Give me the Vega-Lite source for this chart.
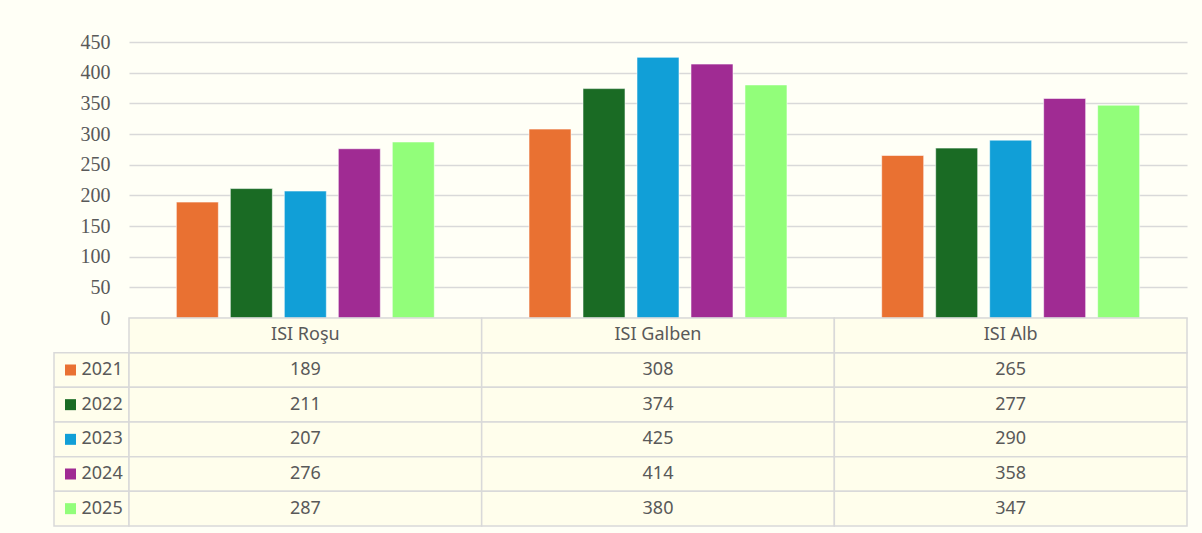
{
  "$schema": "https://vega.github.io/schema/vega-lite/v6.json",
  "background": "#fffff6",
  "padding": {"left": 53, "top": 32, "right": 15, "bottom": 6},
  "spacing": 0,
  "bounds": "flush",
  "columns": 2,
  "datasets": {
    "vals": [
      {"cat": "ISI Roşu", "year": "2021", "value": 189},
      {"cat": "ISI Roşu", "year": "2022", "value": 211},
      {"cat": "ISI Roşu", "year": "2023", "value": 207},
      {"cat": "ISI Roşu", "year": "2024", "value": 276},
      {"cat": "ISI Roşu", "year": "2025", "value": 287},
      {"cat": "ISI Galben", "year": "2021", "value": 308},
      {"cat": "ISI Galben", "year": "2022", "value": 374},
      {"cat": "ISI Galben", "year": "2023", "value": 425},
      {"cat": "ISI Galben", "year": "2024", "value": 414},
      {"cat": "ISI Galben", "year": "2025", "value": 380},
      {"cat": "ISI Alb", "year": "2021", "value": 265},
      {"cat": "ISI Alb", "year": "2022", "value": 277},
      {"cat": "ISI Alb", "year": "2023", "value": 290},
      {"cat": "ISI Alb", "year": "2024", "value": 358},
      {"cat": "ISI Alb", "year": "2025", "value": 347}
    ]
  },
  "config": {
    "view": {"stroke": null},
    "text": {"font": "Noto Sans", "fontSize": 18, "fill": "#595959"}
  },
  "concat": [
    {
      "width": 75,
      "height": 276,
      "data": {"values": [{}]},
      "mark": {"type": "text"},
      "encoding": {"text": {"value": ""}}
    },
    {
      "width": 1058,
      "height": 276,
      "data": {"name": "vals"},
      "mark": {"type": "bar", "stroke": "#ffffff", "strokeOpacity": 0.55, "strokeWidth": 1},
      "encoding": {
        "x": {
          "field": "cat", "type": "nominal", "sort": null,
          "scale": {"domain": ["ISI Roşu", "ISI Galben", "ISI Alb"], "paddingInner": 0, "paddingOuter": 0},
          "axis": null
        },
        "xOffset": {
          "field": "year", "type": "nominal",
          "scale": {"paddingInner": 0.222, "paddingOuter": 0.877}
        },
        "y": {
          "field": "value", "type": "quantitative",
          "scale": {"domain": [0, 450], "nice": false},
          "axis": {
            "title": null,
            "values": [0, 50, 100, 150, 200, 250, 300, 350, 400, 450],
            "domain": false,
            "ticks": false,
            "labelPadding": 19,
            "labelFont": "Liberation Serif",
            "labelFontSize": 20,
            "labelColor": "#595959",
            "gridColor": "#d9d9d9",
            "gridWidth": 1.5
          }
        },
        "color": {
          "field": "year", "type": "nominal",
          "scale": {"domain": ["2021", "2022", "2023", "2024", "2025"], "range": ["#E97132", "#1A6B24", "#119FD7", "#A02B93", "#92FE7A"]},
          "legend": null
        }
      }
    },
    {
      "width": 75,
      "height": 208,
      "data": {"name": "vals"},
      "transform": [{"filter": "datum.cat == 'ISI Roşu'"}],
      "encoding": {
        "y": {
          "field": "year", "type": "nominal",
          "scale": {"domain": ["hdr", "2021", "2022", "2023", "2024", "2025"], "paddingInner": 0, "paddingOuter": 0},
          "axis": null
        }
      },
      "layer": [
        {"mark": {"type": "rect", "fill": "#fffeec", "stroke": "#d9d9d9", "strokeWidth": 1.5}},
        {
          "mark": {"type": "square", "size": 121, "opacity": 1, "xOffset": -21},
          "encoding": {
            "color": {
              "field": "year", "type": "nominal",
              "scale": {"domain": ["2021", "2022", "2023", "2024", "2025"], "range": ["#E97132", "#1A6B24", "#119FD7", "#A02B93", "#92FE7A"]},
              "legend": null
            }
          }
        },
        {
          "mark": {"type": "text", "align": "left", "dx": -10},
          "encoding": {"text": {"field": "year"}}
        }
      ]
    },
    {
      "width": 1058,
      "height": 208,
      "layer": [
        {
          "data": {"name": "vals"},
          "encoding": {
            "x": {"field": "cat", "type": "nominal", "sort": null, "scale": {"domain": ["ISI Roşu", "ISI Galben", "ISI Alb"], "paddingInner": 0, "paddingOuter": 0}, "axis": null},
            "y": {"field": "year", "type": "nominal", "scale": {"domain": ["hdr", "2021", "2022", "2023", "2024", "2025"], "paddingInner": 0, "paddingOuter": 0}, "axis": null}
          },
          "layer": [
            {"mark": {"type": "rect", "fill": "#fffeec", "stroke": "#d9d9d9", "strokeWidth": 1.5}},
            {"mark": {"type": "text"}, "encoding": {"text": {"field": "value"}}}
          ]
        },
        {
          "data": {"name": "vals"},
          "transform": [{"filter": "datum.year == '2021'"}],
          "encoding": {
            "x": {"field": "cat", "type": "nominal", "sort": null, "axis": null},
            "y": {"datum": "hdr", "type": "nominal", "axis": null}
          },
          "layer": [
            {"mark": {"type": "rect", "fill": "#fffeec", "stroke": "#d9d9d9", "strokeWidth": 1.5}},
            {"mark": {"type": "text"}, "encoding": {"text": {"field": "cat"}}}
          ]
        }
      ]
    }
  ]
}
